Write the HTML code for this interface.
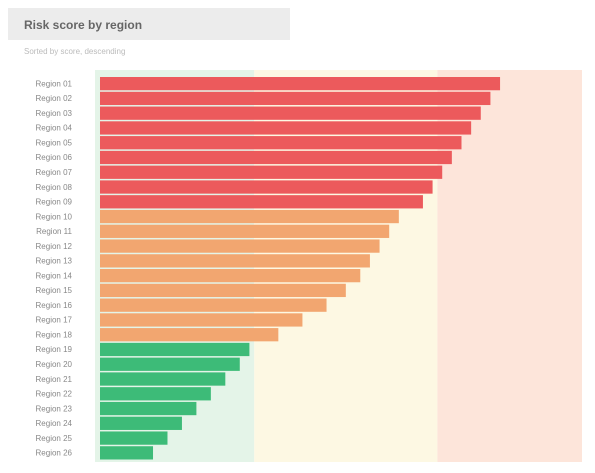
<!DOCTYPE html>
<html><head><meta charset="utf-8"><style>
body{margin:0;background:#fff;font-family:"Liberation Sans",sans-serif}
svg{display:block}
</style></head><body>
<svg id="c" width="595" height="473">
<rect x="8" y="8" width="282" height="32" fill="#ececec"/>
<text x="24" y="29" font-size="12" font-weight="bold" fill="#666">Risk score by region</text>
<text x="24" y="54" font-size="8" fill="#bbb">Sorted by score, descending</text>
<g id="bands"></g><g id="bars"></g><g id="labels"></g>
</svg>
<script>
const categories=["Region 01","Region 02","Region 03","Region 04","Region 05","Region 06","Region 07","Region 08","Region 09","Region 10","Region 11","Region 12","Region 13","Region 14","Region 15","Region 16","Region 17","Region 18","Region 19","Region 20","Region 21","Region 22","Region 23","Region 24","Region 25","Region 26"];
const values=[83,81,79,77,75,73,71,69,67,62,60,58,56,54,51,47,42,37,31,29,26,23,20,17,14,11];
const bandLimits=[0,32,70,100];
const bandColors=["#e4f4e8","#fdf8e3","#fde5da"];
const barColors=["#3dbb78","#f2a670","#ec5a5c"];
const NS="http://www.w3.org/2000/svg";
const x0=100,x1=582,y0=76,y1=460;
const xs=v=>x0+(v/100)*(x1-x0);
const step=(y1-y0)/categories.length;
const ys=i=>y0+i*step;
const bands=document.getElementById('bands');
for(let i=0;i<3;i++){const r=document.createElementNS(NS,'rect');
r.setAttribute('x',xs(bandLimits[i])-(i===0?5:0));r.setAttribute('y',y0-6);r.setAttribute('width',xs(bandLimits[i+1])-xs(bandLimits[i])+(i===0?5:0));r.setAttribute('height',y1-y0+8);r.setAttribute('fill',bandColors[i]);


bands.appendChild(r);}
const bars=document.getElementById('bars'),labels=document.getElementById('labels');
values.forEach((v,i)=>{const c=v<bandLimits[1]?0:(v<65?1:2);
const r=document.createElementNS(NS,'rect');
r.setAttribute('x',x0);r.setAttribute('y',ys(i)+1);r.setAttribute('width',xs(v)-x0);r.setAttribute('height',step-1.5);r.setAttribute('fill',barColors[c]);


bars.appendChild(r);
const t=document.createElementNS(NS,'text');
t.setAttribute('x',72);t.setAttribute('y',ys(i)+step/2+3);t.setAttribute('text-anchor','end');t.setAttribute('font-size','8');t.setAttribute('fill','#888');t.textContent=categories[i];


labels.appendChild(t);});
</script>
</body></html>
